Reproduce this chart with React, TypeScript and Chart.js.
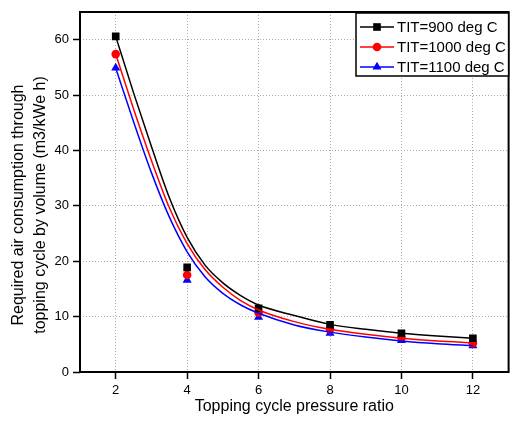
import React, { useEffect, useRef } from "react";
import { Chart, registerables } from "chart.js";

Chart.register(...registerables);

const pressureRatios = [2, 4, 6, 8, 10, 12];
const air900 = [60.6, 18.9, 11.5, 8.5, 7.0, 6.1];
const air1000 = [57.4, 17.5, 10.7, 7.7, 6.2, 5.2];
const air1100 = [54.9, 16.6, 9.9, 7.0, 5.7, 4.75];

const fitX = [2, 2.5, 3, 3.5, 4, 4.5, 5, 5.5, 6, 7, 8, 9, 10, 11, 12];
const fit900 = [60.6, 50.4, 40.7, 31.5, 24.3, 19.3, 16.1, 13.8, 12.1, 10.2, 8.6, 7.7, 7.0, 6.5, 6.1];
const fit1000 = [57.4, 47.5, 38.2, 29.7, 23.2, 18.5, 15.3, 12.9, 11.2, 9.1, 7.7, 6.8, 6.1, 5.6, 5.3];
const fit1100 = [54.9, 45.2, 36.0, 28.0, 21.7, 17.2, 14.2, 12.1, 10.6, 8.5, 7.2, 6.3, 5.6, 5.1, 4.75];

const seriesLabels = ["TIT=900 deg C", "TIT=1000 deg C", "TIT=1100 deg C"];
const seriesColors = ["#000000", "#ff0000", "#0000ff"];
const seriesMarkers = ["rect", "circle", "triangle"];
const markerRadii = [5.4, 4.3, 5.2];

const xTicks = [2, 4, 6, 8, 10, 12];
const yTicks = [0, 10, 20, 30, 40, 50, 60];

const xTitle = "Topping cycle pressure ratio";
const yTitle = ["Required air consumption through", "topping cycle by volume (m3/kWe h)"];

const FONT = "'Liberation Sans', Arial, sans-serif";

function drawMarker(ctx: CanvasRenderingContext2D, style: string, r: number, x: number, y: number, color: string) {
  ctx.save();
  ctx.fillStyle = color;
  ctx.beginPath();
  if (style === "rect") {
    const s = Math.SQRT1_2 * r;
    ctx.rect(x - s, y - s, 2 * s, 2 * s);
  } else if (style === "circle") {
    ctx.arc(x, y, r, 0, Math.PI * 2);
  } else {
    const a = -Math.PI / 2;
    for (let k = 0; k < 3; k++) {
      const ang = a + (k * 2 * Math.PI) / 3;
      const px = x + Math.cos(ang) * r;
      const py = y + Math.sin(ang) * r;
      if (k === 0) ctx.moveTo(px, py);
      else ctx.lineTo(px, py);
    }
    ctx.closePath();
  }
  ctx.fill();
  ctx.restore();
}

const framePlugin = {
  id: "frameAndLegend",
  afterDraw(chart: any) {
    const { ctx, chartArea } = chart;
    ctx.save();
    ctx.strokeStyle = "#000";
    ctx.lineWidth = 2;
    ctx.strokeRect(chartArea.left, chartArea.top, chartArea.right - chartArea.left, chartArea.bottom - chartArea.top);

    // y-axis title (two lines, rotated)
    ctx.save();
    ctx.fillStyle = "#000";
    ctx.font = `16px ${FONT}`;
    ctx.textAlign = "center";
    ctx.textBaseline = "middle";
    const yc = 205;
    const lineX = [19, 40.5];
    for (let i = 0; i < yTitle.length; i++) {
      ctx.save();
      ctx.translate(lineX[i], yc);
      ctx.rotate(-Math.PI / 2);
      ctx.fillText(yTitle[i], 0, 0);
      ctx.restore();
    }
    ctx.restore();

    // legend
    const bx = 356;
    const by = chartArea.top + 1;
    const bw = chartArea.right - bx;
    const bh = 63;
    ctx.fillStyle = "#fff";
    ctx.fillRect(bx, by, bw, bh);
    ctx.lineWidth = 1.5;
    ctx.strokeStyle = "#000";
    ctx.strokeRect(bx, by, bw, bh);
    ctx.font = `15px ${FONT}`;
    ctx.textBaseline = "middle";
    ctx.textAlign = "left";
    for (let i = 0; i < seriesLabels.length; i++) {
      const y = by + 14 + i * 20;
      ctx.strokeStyle = seriesColors[i];
      ctx.lineWidth = 1.5;
      ctx.beginPath();
      ctx.moveTo(360, y);
      ctx.lineTo(394, y);
      ctx.stroke();
      drawMarker(ctx, seriesMarkers[i], markerRadii[i], 377, y, seriesColors[i]);
      ctx.fillStyle = "#000";
      ctx.fillText(seriesLabels[i], 397, y + 1);
    }
    ctx.restore();
  },
};

export default function App() {
  const canvasRef = useRef<HTMLCanvasElement | null>(null);

  useEffect(() => {
    document.body.style.margin = "0";
    const canvas = canvasRef.current;
    if (!canvas) return;
    const fits = [fit900, fit1000, fit1100];
    const pts = [air900, air1000, air1100];
    const datasets: any[] = [];
    for (let i = 0; i < 3; i++) {
      datasets.push({
        label: seriesLabels[i] + " fit",
        data: fitX.map((x, j) => ({ x, y: fits[i][j] })),
        borderColor: seriesColors[i],
        backgroundColor: seriesColors[i],
        borderWidth: 1.5,
        pointRadius: 0,
        showLine: true,
        cubicInterpolationMode: "monotone",
      });
    }
    for (let i = 0; i < 3; i++) {
      datasets.push({
        label: seriesLabels[i],
        data: pressureRatios.map((x, j) => ({ x, y: pts[i][j] })),
        borderColor: seriesColors[i],
        backgroundColor: seriesColors[i],
        pointStyle: seriesMarkers[i],
        pointRadius: markerRadii[i],
        pointBorderWidth: 0,
        showLine: false,
      });
    }

    const gridOpts = {
      color: "#a8a8a8",
      lineWidth: 1,
      drawTicks: true,
      tickLength: 7,
      tickColor: "#000",
      tickWidth: 1.5,
      tickBorderDash: [],
    };

    const chart = new Chart(canvas, {
      type: "scatter",
      data: { datasets },
      plugins: [framePlugin],
      options: {
        animation: false,
        responsive: false,
        maintainAspectRatio: false,
        layout: { padding: { top: 12, right: 2, left: 0, bottom: 0 } },
        plugins: { legend: { display: false }, tooltip: { enabled: false } },
        scales: {
          x: {
            type: "linear",
            min: 1,
            max: 13,
            afterBuildTicks: (scale: any) => {
              scale.ticks = xTicks.map((v) => ({ value: v }));
            },
            afterFit: (scale: any) => {
              scale.height = 51;
            },
            border: { display: false, dash: [1, 2] },
            grid: gridOpts,
            ticks: {
              color: "#000",
              font: { family: FONT, size: 13 },
              padding: 4,
              maxRotation: 0,
            },
            title: {
              display: true,
              text: xTitle,
              color: "#000",
              font: { family: FONT, size: 16 },
              padding: { top: 0, bottom: 7 },
            },
          },
          y: {
            type: "linear",
            min: 0,
            max: 65,
            afterBuildTicks: (scale: any) => {
              scale.ticks = yTicks.map((v) => ({ value: v }));
            },
            afterFit: (scale: any) => {
              scale.width = 80;
            },
            border: { display: false, dash: [1, 2] },
            grid: gridOpts,
            ticks: {
              color: "#000",
              font: { family: FONT, size: 13 },
              padding: 4,
            },
            title: { display: false },
          },
        },
      },
    });
    return () => chart.destroy();
  }, []);

  return (
    <div style={{ position: "absolute", left: 0, top: 0, width: 514, height: 423 }}>
      <canvas ref={canvasRef} width={514} height={423} style={{ width: 514, height: 423 }} />
    </div>
  );
}
